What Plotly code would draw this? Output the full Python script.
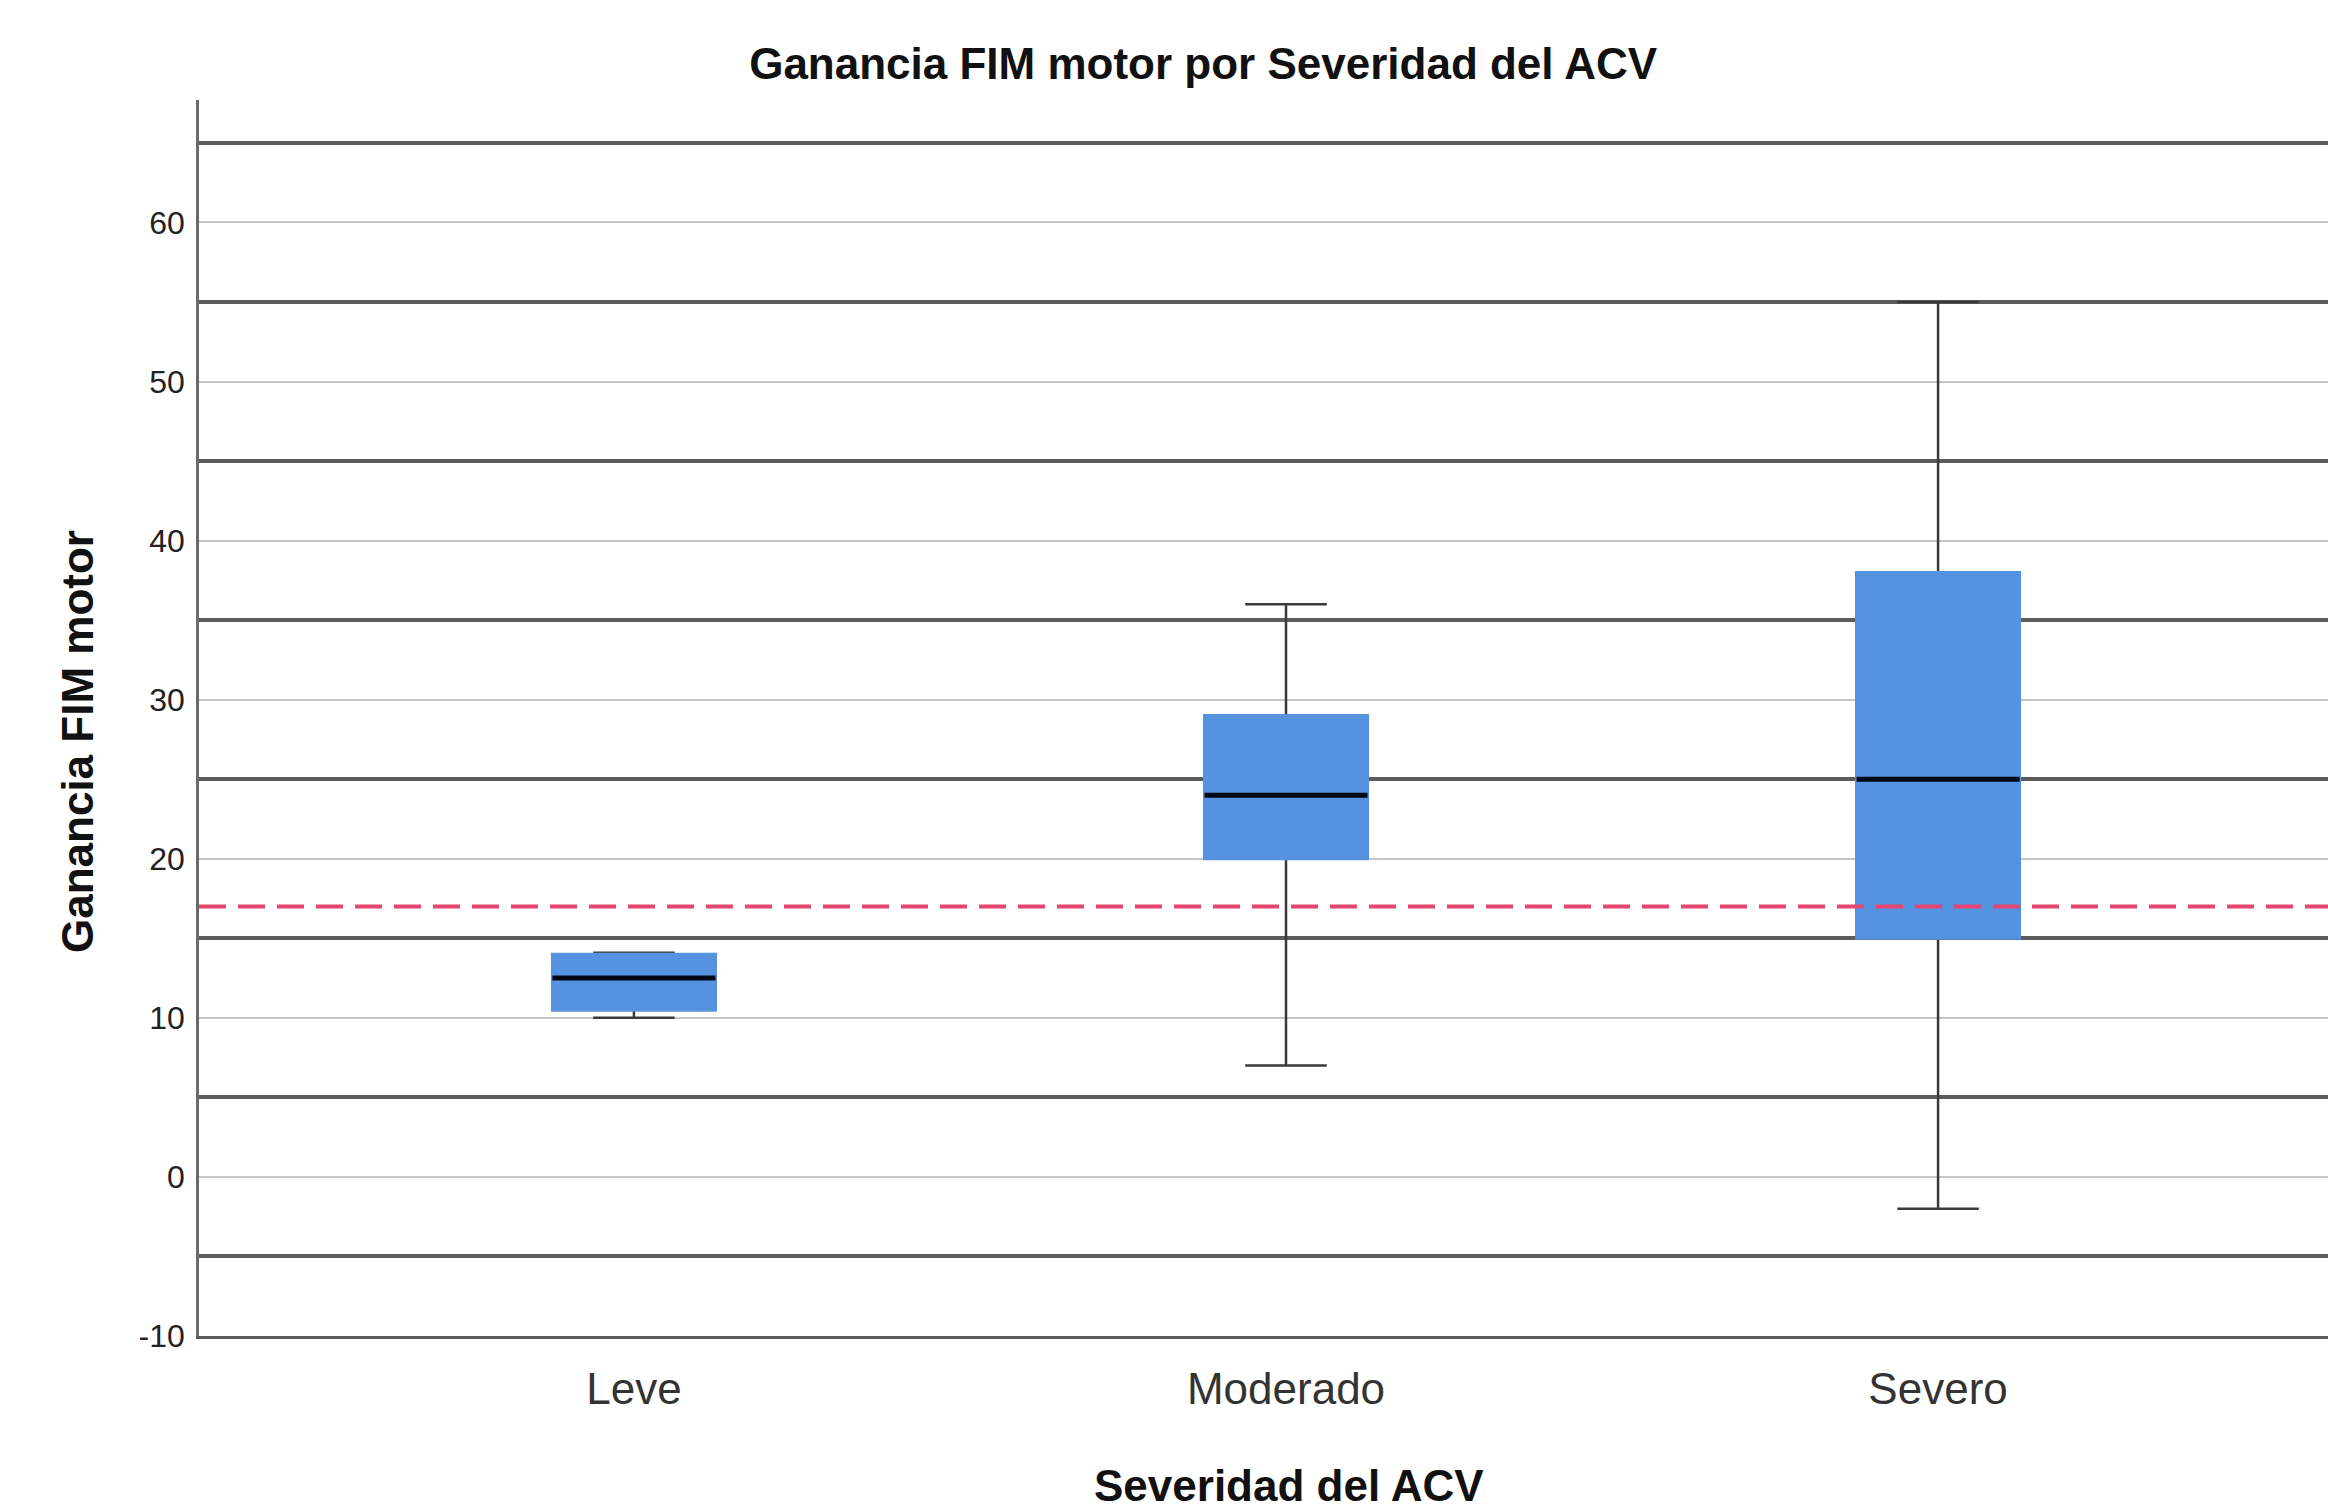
import plotly.graph_objects as go

categories = ["Leve", "Moderado", "Severo"]
q1 = [10.5, 20, 15]
median = [12.5, 24, 25]
q3 = [14, 29, 38]
lower_whisker = [10, 7, -2]
upper_whisker = [14.1, 36, 55]
reference_value = 17

y_tick_values = [-10, 0, 10, 20, 30, 40, 50, 60]
y_tick_labels = ["-10", "0", "10", "20", "30", "40", "50", "60"]

title = "Ganancia FIM motor por Severidad del ACV"
x_title = "Severidad del ACV"
y_title = "Ganancia FIM motor"

BLUE = "#5592E0"
FONT = "Liberation Sans, Arial, sans-serif"
BOX_W = 0.25

fig = go.Figure()

# whiskers + box (gray outline)
fig.add_trace(go.Box(
    x=categories, q1=q1, median=median, q3=q3,
    lowerfence=lower_whisker, upperfence=upper_whisker,
    width=BOX_W, whiskerwidth=0.5,
    fillcolor=BLUE, line=dict(color="#3a3a3a", width=2.5),
    boxpoints=False, hoverinfo="skip", showlegend=False,
))
# cover the box outline with fill colour
fig.add_trace(go.Box(
    x=categories, q1=q1, median=median, q3=q3,
    lowerfence=q1, upperfence=q3,
    width=BOX_W, whiskerwidth=0,
    fillcolor=BLUE, line=dict(color=BLUE, width=3),
    boxpoints=False, hoverinfo="skip", showlegend=False,
))
# median line
fig.add_trace(go.Box(
    x=categories, q1=median, median=median, q3=median,
    lowerfence=median, upperfence=median,
    width=BOX_W, whiskerwidth=0,
    fillcolor="#000814", line=dict(color="#000814", width=5),
    boxpoints=False, hoverinfo="skip", showlegend=False,
))

fig.add_shape(type="line", xref="paper", x0=0, x1=1, yref="y",
              y0=reference_value, y1=reference_value, layer="above",
              line=dict(color="#E4466F", width=4, dash="27px,12px"))

fig.update_layout(
    width=2328, height=1512,
    margin=dict(l=199, r=0, t=100, b=176),
    paper_bgcolor="white", plot_bgcolor="white",
    boxmode="overlay",
    title=dict(text=title, x=0.5168, xref="container", xanchor="center",
               y=1 - 64 / 1512, yref="container", yanchor="middle",
               font=dict(family=FONT, size=44, color="#111111", weight="bold")),
    font=dict(family=FONT, color="#222222"),
)

fig.update_xaxes(
    type="category", range=[-0.667, 2.598],
    showgrid=False, zeroline=False,
    showline=True, linecolor="#5a5a5a", linewidth=2.5,
    ticks="", ticklabelstandoff=12,
    tickfont=dict(family=FONT, size=44, color="#333333"),
)
fig.update_yaxes(
    range=[-10, 67.7], tickmode="array", tickvals=y_tick_values, ticktext=y_tick_labels,
    showgrid=True, gridcolor="#c6c6c6", gridwidth=2,
    minor=dict(tick0=5, dtick=10, showgrid=True, gridcolor="#5c5c5c", gridwidth=3.5),
    zeroline=False,
    showline=True, linecolor="#6b6b6b", linewidth=2.5,
    ticks="", ticklabelstandoff=5,
    tickfont=dict(family=FONT, size=32, color="#222222"),
)

fig.add_annotation(text=x_title, xref="paper", yref="paper",
                   x=0.512, y=(1336 - 1485) / 1236, xanchor="center", yanchor="middle",
                   showarrow=False,
                   font=dict(family=FONT, size=44, color="#111111", weight="bold"))
fig.add_annotation(text=y_title, xref="paper", yref="paper",
                   x=(77 - 199) / 2129, y=(1336 - 742) / 1236, xanchor="center", yanchor="middle",
                   textangle=-90, showarrow=False,
                   font=dict(family=FONT, size=44, color="#111111", weight="bold"))

fig.write_html("out.html")
